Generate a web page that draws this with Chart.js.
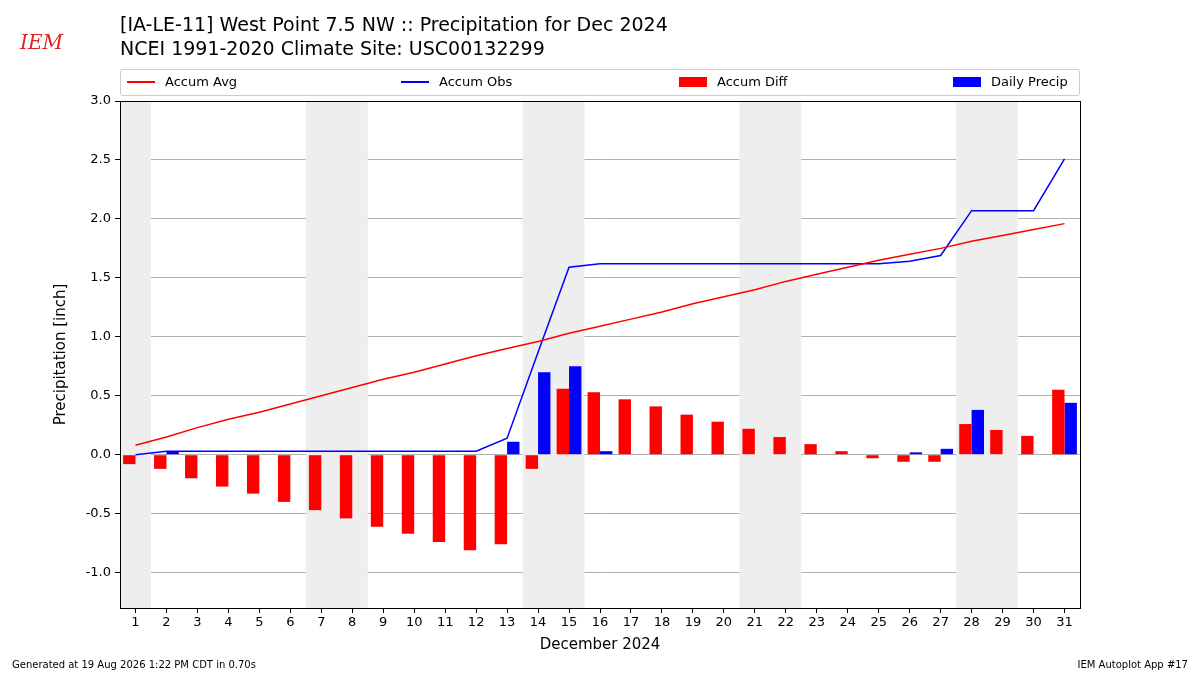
<!DOCTYPE html>
<html><head><meta charset="utf-8">
<script src="https://cdn.jsdelivr.net/npm/chart.js@4"></script>
<style>
body{margin:0;background:#fff;font-family:"DejaVu Sans",sans-serif;}
#wrap{position:absolute;left:0;top:0;width:1200px;height:675px;}
.t{position:absolute;color:#000;white-space:nowrap;}
#legend{position:absolute;left:120px;top:69px;width:958px;height:25px;border:1px solid #ccc;border-radius:3px;font-size:13px;}
.li{position:absolute;top:4px;display:flex;align-items:center;}
.ln{width:28px;height:2px;margin-right:10px;}
.bx{width:28px;height:10px;margin-right:10px;}
</style></head><body>
<div id="wrap"><canvas id="c" width="1200" height="675"></canvas></div>
<div class="t" style="left:20px;top:30px;color:#d22;font:italic 20px 'DejaVu Serif',serif;">IEM</div>
<div class="t" style="left:120px;top:12px;font-size:19px;line-height:24px;">[IA-LE-11] West Point 7.5 NW :: Precipitation for Dec 2024<br>NCEI 1991-2020 Climate Site: USC00132299</div>
<div id="legend">
 <div class="li" style="left:6px"><div class="ln" style="background:#f00"></div>Accum Avg</div>
 <div class="li" style="left:280px"><div class="ln" style="background:#00f"></div>Accum Obs</div>
 <div class="li" style="left:558px"><div class="bx" style="background:#f00"></div>Accum Diff</div>
 <div class="li" style="left:832px"><div class="bx" style="background:#00f"></div>Daily Precip</div>
</div>
<div class="t" style="left:12px;top:659px;font-size:10px;">Generated at 19 Aug 2026 1:22 PM CDT in 0.70s</div>
<div class="t" style="right:12px;top:659px;font-size:10px;">IEM Autoplot App #17</div>
<script>
var DAYS = [];
for (var i = 1; i <= 31; i++) DAYS.push(String(i));
var ACCUM_AVG = [0.08,0.15,0.23,0.30,0.36,0.43,0.50,0.57,0.64,0.70,0.77,0.84,0.90,0.96,1.03,1.09,1.15,1.21,1.28,1.34,1.40,1.47,1.53,1.59,1.65,1.70,1.75,1.81,1.86,1.91,1.96];
var ACCUM_OBS = [0.00,0.03,0.03,0.03,0.03,0.03,0.03,0.03,0.03,0.03,0.03,0.03,0.14,0.87,1.59,1.62,1.62,1.62,1.62,1.62,1.62,1.62,1.62,1.62,1.62,1.64,1.69,2.07,2.07,2.07,2.51];
var ACCUM_DIFF = [-0.08,-0.12,-0.20,-0.27,-0.33,-0.40,-0.47,-0.54,-0.61,-0.67,-0.74,-0.81,-0.76,-0.12,0.56,0.53,0.47,0.41,0.34,0.28,0.22,0.15,0.09,0.03,-0.03,-0.06,-0.06,0.26,0.21,0.16,0.55];
var DAILY = [0,0.03,0,0,0,0,0,0,0,0,0,0,0.11,0.70,0.75,0.03,0,0,0,0,0,0,0,0,0,0.02,0.05,0.38,0,0,0.44];
var WEEKENDS = [[1,1],[7,8],[14,15],[21,22],[28,29]];

var shade = {
  id: 'shade',
  beforeDatasetsDraw: function (ch) {
    var x = ch.scales.x, a = ch.chartArea, c = ch.ctx;
    var step = x.getPixelForValue(1) - x.getPixelForValue(0);
    c.save(); c.fillStyle = '#eeeeee';
    WEEKENDS.forEach(function (w) {
      var l = x.getPixelForValue(w[0] - 1) - step / 2, r = x.getPixelForValue(w[1] - 1) + step / 2;
      c.fillRect(l, a.top, r - l, a.bottom - a.top);
    });
    c.restore();
  },
  afterDraw: function (ch) {
    var a = ch.chartArea, c = ch.ctx;
    c.save(); c.strokeStyle = '#000'; c.lineWidth = 1;
    c.strokeRect(Math.round(a.left) + 0.5, Math.round(a.top) + 0.5, Math.round(a.right - a.left), Math.round(a.bottom - a.top));
    c.restore();
  }
};

new Chart(document.getElementById('c'), {
  type: 'bar',
  data: {
    labels: DAYS,
    datasets: [
      { type: 'line', data: ACCUM_AVG, borderColor: '#f00', borderWidth: 1.5, pointRadius: 0, tension: 0 },
      { type: 'line', data: ACCUM_OBS, borderColor: '#00f', borderWidth: 1.5, pointRadius: 0, tension: 0 },
      { data: ACCUM_DIFF, backgroundColor: '#f00', barPercentage: 1, categoryPercentage: 0.8 },
      { data: DAILY, backgroundColor: '#00f', barPercentage: 1, categoryPercentage: 0.8 }
    ]
  },
  plugins: [shade],
  options: {
    responsive: false, animation: false,
    layout: { padding: { top: 101, right: 120, left: 52, bottom: 21 } },
    plugins: { legend: { display: false }, tooltip: { enabled: false } },
    scales: {
      x: {
        grid: { drawOnChartArea: false, tickColor: '#000', tickLength: 5, offset: false }, border: { color: '#000' },
        ticks: { color: '#000', font: { size: 13, family: 'DejaVu Sans' }, maxRotation: 0, padding: 2 },
        title: { display: true, text: 'December 2024', color: '#000', font: { size: 15, family: 'DejaVu Sans' }, padding: 0 },
        afterFit: function (s) { s.height = 46; }
      },
      y: {
        min: -1.3, max: 3.0,
        border: { color: '#000' },
        grid: { color: '#b0b0b0', tickColor: '#000', tickLength: 5 },
        ticks: { stepSize: 0.5, color: '#000', padding: 4, font: { size: 13, family: 'DejaVu Sans' },
          callback: function (v) { return v.toFixed(1); } },
        afterBuildTicks: function (s) { s.ticks = s.ticks.filter(function (t) { return t.value >= -1.0001; }); },
        title: { display: true, text: 'Precipitation [inch]', color: '#000', font: { size: 15, family: 'DejaVu Sans' }, padding: 0 },
        afterFit: function (s) { s.width = 68; }
      }
    }
  }
});
</script>
</body></html>
